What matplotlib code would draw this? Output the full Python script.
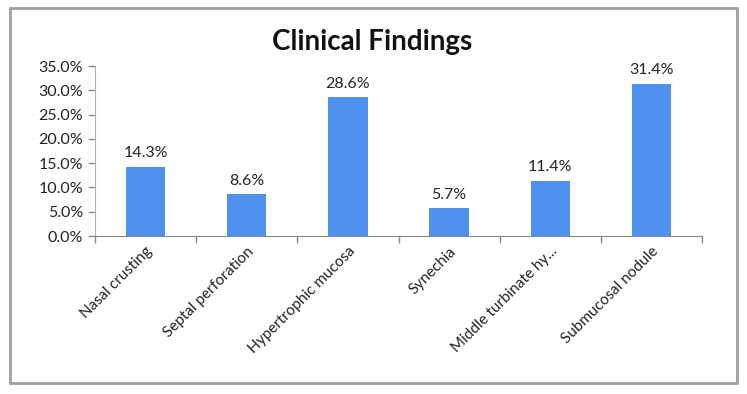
import numpy as np
import matplotlib
matplotlib.use("Agg")
from matplotlib import pyplot as plt
from matplotlib.patches import Rectangle
from matplotlib.ticker import FuncFormatter, MultipleLocator

categorias = [
    "Nasal crusting",
    "Septal perforation",
    "Hypertrophic mucosa",
    "Synechia",
    "Middle turbinate hy...",
    "Submucosal nodule",
]
valores = [14.3, 8.6, 28.6, 5.7, 11.4, 31.4]

plt.rcParams["font.family"] = ["Lato", "DejaVu Sans"]

fig = plt.figure(figsize=(7.47, 3.94), dpi=100)
ax = fig.add_axes([0.127, 0.401, 0.813, 0.431])

x = np.arange(len(categorias))
ax.bar(x, valores, width=0.39, color="#4F91EE", zorder=2)

for xi, v in zip(x, valores):
    ax.text(xi, v + 1.3, f"{v:.1f}%", ha="center", va="bottom", fontsize=11.5, color="#222222")

ax.set_xlim(-0.5, len(categorias) - 0.5)
ax.set_ylim(0, 35)
ax.yaxis.set_major_locator(MultipleLocator(5))
ax.yaxis.set_major_formatter(FuncFormatter(lambda v, p: f"{v:.1f}%"))

# ticks nas fronteiras das categorias (estilo Excel)
ax.set_xticks(np.arange(-0.5, len(categorias)), minor=False)
ax.set_xticklabels([])
ax.set_xticks(x, minor=True)
ax.set_xticklabels(categorias, minor=True, rotation=45, ha="right",
                   rotation_mode="anchor", fontsize=11, color="#222222")
ax.tick_params(axis="x", which="minor", length=0, pad=6)
ax.tick_params(axis="x", which="major", length=5, color="#888888", width=1)
ax.tick_params(axis="y", length=5, color="#888888", width=1, labelsize=11.5,
               labelcolor="#222222")

for lado in ["top", "right"]:
    ax.spines[lado].set_visible(False)
ax.spines["left"].set_color("#b0b0b0")
ax.spines["bottom"].set_color("#888888")

fig.text(0.498, 0.893, "Clinical Findings", ha="center", va="center",
         fontsize=20, fontweight="bold", color="#111111")

# moldura do gráfico
fig.patches.append(Rectangle((0.014, 0.028), 0.972, 0.952, transform=fig.transFigure,
                             fill=False, edgecolor="#a0a0a0", linewidth=2))

fig.savefig("out.png", dpi=100)
plt.close(fig)
